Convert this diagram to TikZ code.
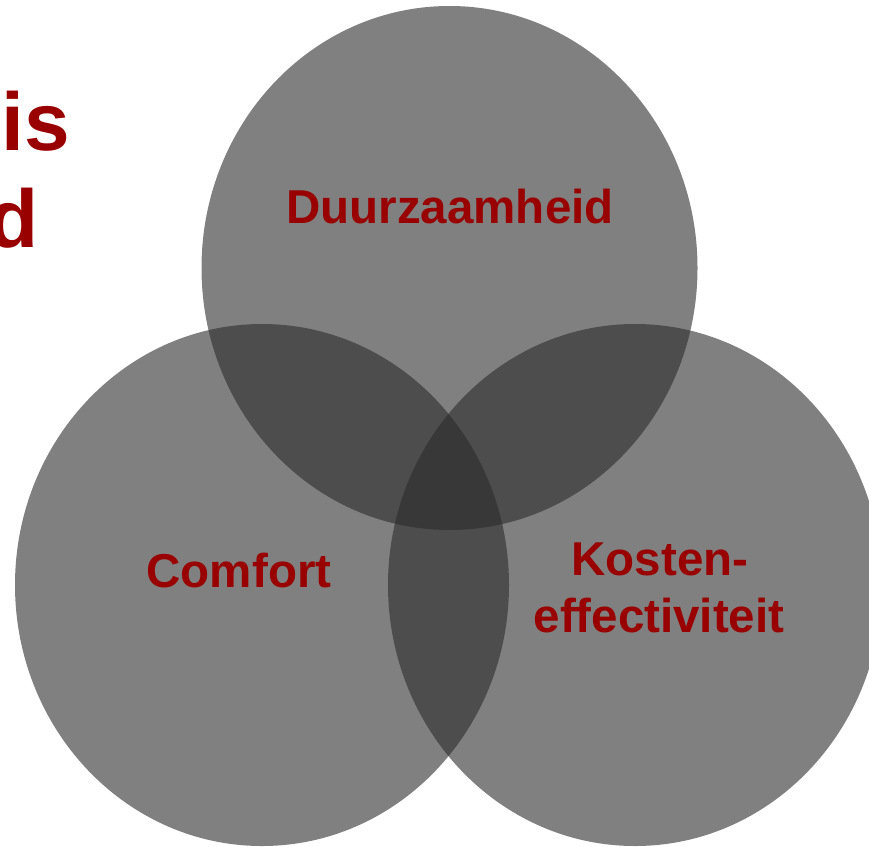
\documentclass[tikz,border=0pt]{standalone}
\usepackage{fontspec}
\setmainfont{Liberation Sans}
\definecolor{lbl}{HTML}{990000}
\definecolor{disc}{RGB}{43,43,43}
\begin{document}
\begin{tikzpicture}[x=1pt,y=-1pt,
  venn/.style={fill=disc,fill opacity=0.6,draw=none},
  lab/.style={text=lbl,font=\bfseries\fontsize{47.5}{57}\selectfont,inner sep=0pt,anchor=base,align=center},
  big/.style={text=lbl,font=\bfseries\fontsize{82}{97}\selectfont,inner sep=0pt,anchor=base east}]
\useasboundingbox (0,0) rectangle (869,846);
\clip (0,0) rectangle (869,846);
\fill[venn] (449.5,268) ellipse [x radius=248,y radius=262];
\fill[venn] (262,585) ellipse [x radius=247,y radius=261];
\fill[venn] (635,585) ellipse [x radius=247,y radius=261];
\node[lab] (duur) at (450,223) {Duurzaamheid};
\node[lab] (comf) at (239,587) {Comfort};
\node[lab] (kost) at (660,575) {Kosten-};
\node[lab] (eff) at (659,632) {effectiviteit};
\node[big] (is) at (70,150) {is};
\node[big] (d) at (39,247) {d};
\end{tikzpicture}
\end{document}
